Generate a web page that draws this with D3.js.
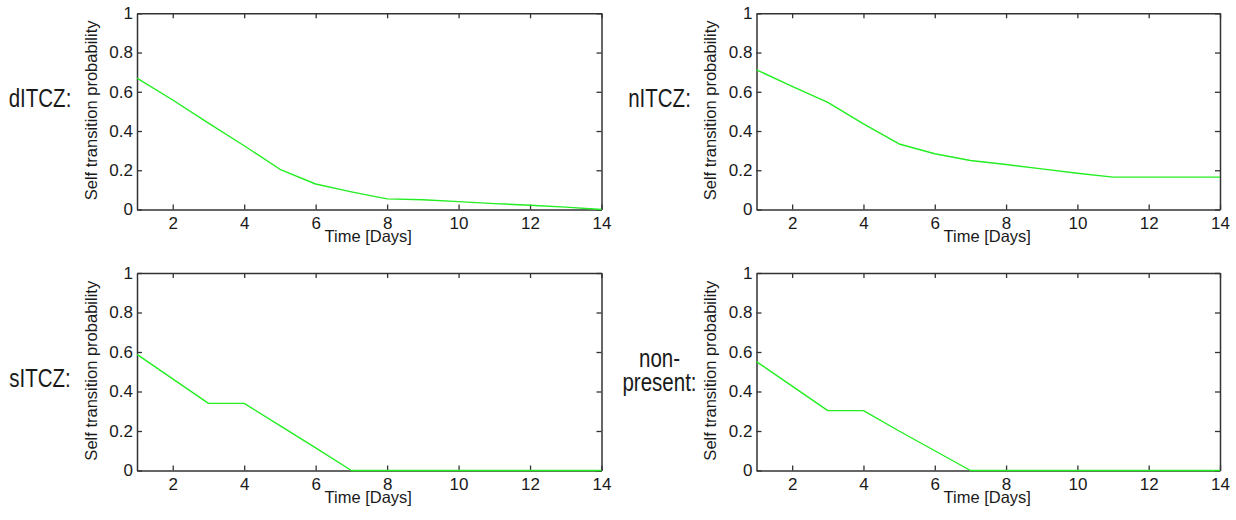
<!DOCTYPE html>
<html>
<head>
<meta charset="utf-8">
<script src="https://cdn.jsdelivr.net/npm/d3@7"></script>
<style>
  html, body { margin: 0; padding: 0; background: #fff; }
  svg { display: block; }
  text { font-family: Arial, "Liberation Sans", Helvetica, sans-serif; fill: #1a1a1a; }
</style>
</head>
<body>
<svg id="chart" width="1236" height="520"></svg>
<script>
// ---- data ----
const days = [1, 2, 3, 4, 5, 6, 7, 8, 9, 10, 11, 12, 13, 14];
const dITCZ = [0.67, 0.558, 0.44, 0.325, 0.205, 0.13, 0.09, 0.054, 0.05, 0.04, 0.03, 0.022, 0.012, 0];
const nITCZ = [0.712, 0.627, 0.546, 0.436, 0.334, 0.284, 0.25, 0.229, 0.207, 0.185, 0.165, 0.165, 0.165, 0.165];
const sITCZ = [0.588, 0.464, 0.34, 0.34, 0.227, 0.115, 0, 0, 0, 0, 0, 0, 0, 0];
const nonPresent = [0.551, 0.427, 0.303, 0.303, 0.2, 0.1, 0, 0, 0, 0, 0, 0, 0, 0];
const xTicks = [2, 4, 6, 8, 10, 12, 14];
const yTicks = [0, 0.2, 0.4, 0.6, 0.8, 1];
const yTickLabels = ["0", "0.2", "0.4", "0.6", "0.8", "1"];
const panelNames = [["dITCZ:"], ["nITCZ:"], ["sITCZ:"], ["non-", "present:"]];
const xLabel = "Time [Days]";
const yLabel = "Self transition probability";

// ---- layout ----
const panelSeries = [dITCZ, nITCZ, sITCZ, nonPresent];
const colsX = [[137, 601.5], [756.5, 1220]];
const rowsY = [[13.3, 209.5], [273, 470.5]];
const labelBaselines = [[106.7], [106.7], [387.3], [367, 391]];
const labelCenterOffset = 97;

const svg = d3.select("#chart");
const axisColor = "#333";

panelSeries.forEach((vals, i) => {
  const col = i % 2, row = Math.floor(i / 2);
  const [x0, x1] = colsX[col];
  const [y0, y1] = rowsY[row];
  const x = d3.scaleLinear().domain([1, 14]).range([x0, x1]);
  const y = d3.scaleLinear().domain([0, 1]).range([y1, y0]);
  const g = svg.append("g");

  const style = sel => {
    sel.selectAll("path.domain").attr("stroke", axisColor).attr("stroke-width", 1.5);
    sel.selectAll(".tick line").attr("stroke", axisColor).attr("stroke-width", 1.3);
    sel.selectAll(".tick text").attr("fill", "#1a1a1a").style("font-size", "17px")
      .style("font-family", 'Arial, "Liberation Sans", Helvetica, sans-serif');
  };

  // bottom
  g.append("g").attr("transform", `translate(0,${y1})`)
    .call(d3.axisBottom(x).tickValues(xTicks).tickFormat(d3.format("d"))
      .tickSizeInner(-5).tickSizeOuter(0).tickPadding(7.5))
    .call(style);
  // top
  g.append("g").attr("transform", `translate(0,${y0})`)
    .call(d3.axisTop(x).tickValues(xTicks).tickFormat("")
      .tickSizeInner(-5).tickSizeOuter(0))
    .call(style);
  // left
  g.append("g").attr("transform", `translate(${x0},0)`)
    .call(d3.axisLeft(y).tickValues(yTicks).tickFormat((d, k) => yTickLabels[k])
      .tickSizeInner(-5).tickSizeOuter(0).tickPadding(4))
    .call(style);
  // right
  g.append("g").attr("transform", `translate(${x1},0)`)
    .call(d3.axisRight(y).tickValues(yTicks).tickFormat("")
      .tickSizeInner(-5).tickSizeOuter(0))
    .call(style);

  // line
  const line = d3.line().x((d, k) => x(days[k])).y(d => y(d));
  g.append("path").datum(vals)
    .attr("d", line)
    .attr("fill", "none")
    .attr("stroke", "#22ee22")
    .attr("stroke-width", 1.4)
    .attr("stroke-linejoin", "round");

  // x label
  g.append("text")
    .attr("x", (x0 + x1) / 2 - 1)
    .attr("y", y1 + 32)
    .attr("text-anchor", "middle")
    .style("font-size", "16.5px")
    .text(xLabel);

  // y label
  g.append("text")
    .attr("transform", `translate(${x0 - 40.5},${(y0 + y1) / 2 - 1}) rotate(-90)`)
    .attr("text-anchor", "middle")
    .style("font-size", "16.5px")
    .text(yLabel);

  // panel label
  const cx = x0 - labelCenterOffset;
  panelNames[i].forEach((t, k) => {
    g.append("text")
      .attr("transform", `translate(${cx},${labelBaselines[i][k]}) scale(0.82,1)`)
      .attr("text-anchor", "middle")
      .style("font-size", "25px")
      .text(t);
  });
});
</script>
</body>
</html>
